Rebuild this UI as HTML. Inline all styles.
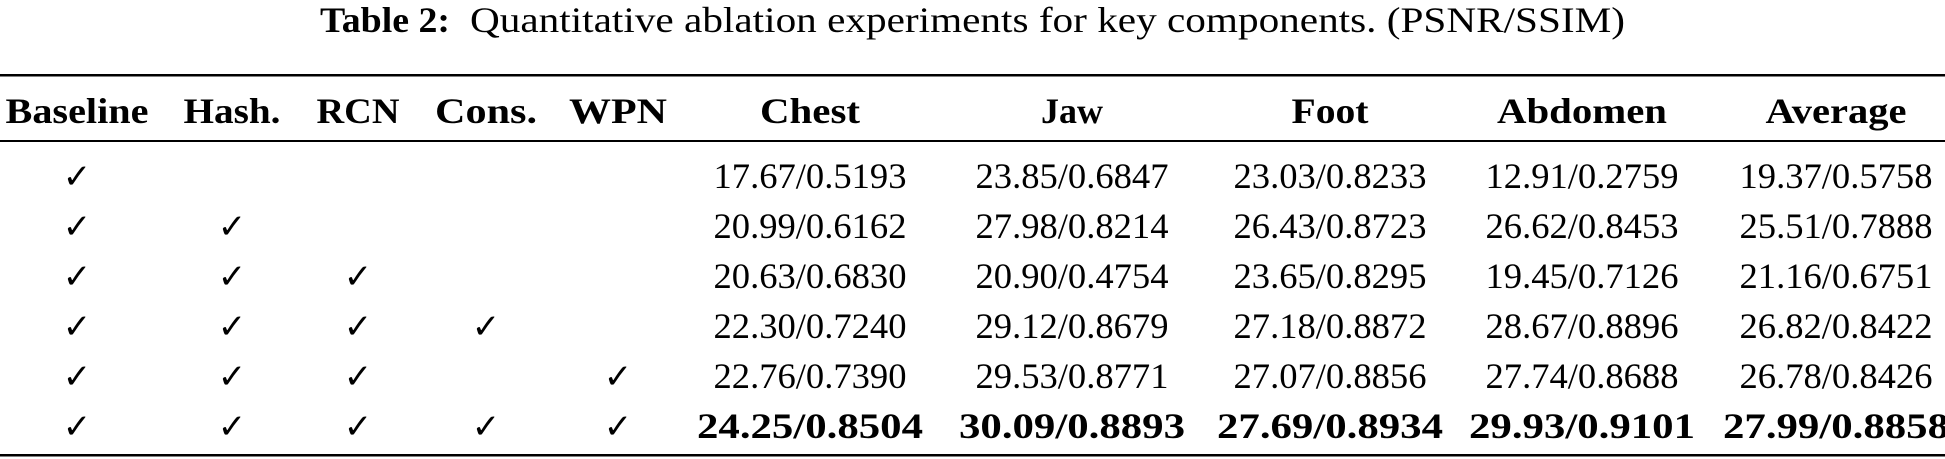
<!DOCTYPE html>
<html><head><meta charset="utf-8"><style>
html,body{margin:0;padding:0;background:#fff;}
svg{display:block;}
text{font-family:"Liberation Serif","DejaVu Serif",serif;fill:#000;}
.ck{font-family:"DejaVu Sans",sans-serif;font-size:34px;}
</style></head><body>
<svg width="1945" height="459" viewBox="0 0 1945 459">
<text y="32" font-size="36"><tspan font-weight="bold" x="320" textLength="130" lengthAdjust="spacingAndGlyphs">Table 2:</tspan><tspan x="470" textLength="1155" lengthAdjust="spacingAndGlyphs">Quantitative ablation experiments for key components. (PSNR/SSIM)</tspan></text>
<rect x="0" y="74" width="1945" height="2.5" fill="#000"/>
<rect x="0" y="140" width="1945" height="2" fill="#000"/>
<rect x="0" y="454" width="1945" height="2.5" fill="#000"/>
<g id="hdr" font-weight="bold" font-size="36"></g>
<g id="body" font-size="36"></g>
</svg>
<script>
const headers=["Baseline","Hash.","RCN","Cons.","WPN","Chest","Jaw","Foot","Abdomen","Average"];
const headerCx=[77,232,358,486,618,810,1072,1330,1582,1836];
const headerW=[143,97,83,102,98,100,62,77,170,141];
const checks=[[1,0,0,0,0],[1,1,0,0,0],[1,1,1,0,0],[1,1,1,1,0],[1,1,1,0,1],[1,1,1,1,1]];
const chest=["17.67/0.5193","20.99/0.6162","20.63/0.6830","22.30/0.7240","22.76/0.7390","24.25/0.8504"];
const jaw=["23.85/0.6847","27.98/0.8214","20.90/0.4754","29.12/0.8679","29.53/0.8771","30.09/0.8893"];
const foot=["23.03/0.8233","26.43/0.8723","23.65/0.8295","27.18/0.8872","27.07/0.8856","27.69/0.8934"];
const abdomen=["12.91/0.2759","26.62/0.8453","19.45/0.7126","28.67/0.8896","27.74/0.8688","29.93/0.9101"];
const average=["19.37/0.5758","25.51/0.7888","21.16/0.6751","26.82/0.8422","26.78/0.8426","27.99/0.8858"];
const NS="http://www.w3.org/2000/svg";
const hdr=document.getElementById('hdr'), body=document.getElementById('body');
headers.forEach((h,i)=>{
  const t=document.createElementNS(NS,'text');
  
  
  t.setAttribute('x',headerCx[i]-headerW[i]/2);t.setAttribute('y',123);
  t.setAttribute('textLength',headerW[i]);t.setAttribute('lengthAdjust','spacingAndGlyphs');
  t.textContent=h;hdr.appendChild(t);
});
const cols=[chest,jaw,foot,abdomen,average];
checks.forEach((row,r)=>{
  const y=188+r*50;
  const last=r===checks.length-1;
  row.forEach((c,j)=>{
    if(!c)return;
    const t=document.createElementNS(NS,'text');
    
    
    t.setAttribute('class','ck');t.setAttribute('x',headerCx[j]);t.setAttribute('y',y);
    t.setAttribute('text-anchor','middle');t.textContent='\u2713';body.appendChild(t);
  });
  cols.forEach((col,k)=>{
    const t=document.createElementNS(NS,'text');
    
    
    const w=last?226:193;
    t.setAttribute('x',headerCx[k+5]-w/2);t.setAttribute('y',y);
    t.setAttribute('textLength',w);t.setAttribute('lengthAdjust','spacingAndGlyphs');
    if(last)t.setAttribute('font-weight','bold');
    t.textContent=col[r];body.appendChild(t);
  });
});
</script>
</body></html>
